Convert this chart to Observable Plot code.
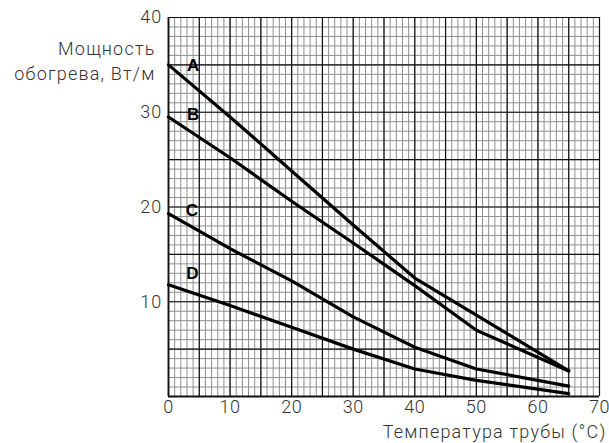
<!DOCTYPE html>
<html>
<head>
<meta charset="utf-8">
<script src="https://cdn.jsdelivr.net/npm/d3@7"></script>
<script src="https://cdn.jsdelivr.net/npm/@observablehq/plot@0.6"></script>
<style>
  html, body { margin: 0; padding: 0; background: #fff; }
  svg { display: block; }
  svg .thin text, svg text.thin, svg .thin tspan { letter-spacing: 1.2px; font-weight: 300; }
  svg .thinx text, svg text.thinx { letter-spacing: 0.5px; font-weight: 300; }
</style>
</head>
<body>
<div id="chart"></div>
<script>
const temps = [0, 10, 20, 30, 40, 50, 65];
const seriesA = [35, 29.5, 23.8, 18.1, 12.5, 8.6, 2.7];
const seriesB = [29.5, 25.2, 20.6, 16.2, 11.7, 7.0, 2.7];
const seriesC = [19.3, 15.6, 12.2, 8.4, 5.2, 2.9, 1.1];
const seriesD = [11.8, 9.6, 7.3, 5.0, 2.9, 1.7, 0.3];
const seriesNames = ["A", "B", "C", "D"];
const labelX = [4, 4, 3.8, 3.9];
const labelY = [34.9, 29.8, 19.6, 13.0];
const xTicks = [0, 10, 20, 30, 40, 50, 60, 70];
const yTicks = [10, 20, 30, 40];
const minorX = d3.range(0, 71, 1);
const minorY = d3.range(0, 41, 1);
const majorX = d3.range(0, 71, 5);
const majorY = d3.range(0, 41, 5);
const yTitle = "Мощность\nобогрева, Вт/м";
const xTitle = "Температура трубы (°C)";

const all = [seriesA, seriesB, seriesC, seriesD];
const rows = [];
all.forEach((s, i) => s.forEach((v, j) => rows.push({series: seriesNames[i], t: temps[j], p: v})));
const labels = seriesNames.map((n, i) => ({n, x: labelX[i], y: labelY[i]}));

const font = "Roboto, 'DejaVu Sans', sans-serif";

const plot = Plot.plot({
  width: 609,
  height: 443,
  marginLeft: 168,
  marginRight: 10,
  marginTop: 17,
  marginBottom: 47,
  style: {fontFamily: font, fontSize: "18px", color: "#333", background: "#fff"},
  x: {domain: [0, 70], label: null},
  y: {domain: [0, 40], label: null},
  marks: [
    Plot.ruleX(minorX, {stroke: "#8f8f8f", strokeWidth: 1}),
    Plot.ruleY(minorY, {stroke: "#8f8f8f", strokeWidth: 1}),
    Plot.ruleX(majorX, {stroke: "#111", strokeWidth: 1.2}),
    Plot.ruleY(majorY, {stroke: "#111", strokeWidth: 1.2}),
    Plot.ruleY([0], {stroke: "#111", strokeWidth: 1.8}),
    Plot.ruleX([0], {stroke: "#111", strokeWidth: 1.8}),
    Plot.line(rows, {x: "t", y: "p", z: "series", stroke: "#000", strokeWidth: 3.2, strokeLinejoin: "round"}),
    Plot.text(labels, {x: "x", y: "y", text: "n", fontWeight: "bold", fontSize: 17, fill: "#000",
      fontFamily: "'Liberation Sans', Arial, sans-serif"}),
    Plot.axisX({ticks: xTicks, tickSize: 0, tickPadding: 4, label: null, fontSize: 18, className: "thinx"}),
    Plot.axisY({ticks: yTicks, tickSize: 0, tickPadding: 6, label: null, fontSize: 18, className: "thin"}),
    Plot.text([yTitle], {frameAnchor: "top-left", dx: -13, dy: 42, textAnchor: "end", lineAnchor: "middle",
      lineHeight: 1.4, fontSize: 18, fill: "#333", className: "thin"}),
    Plot.text([xTitle], {frameAnchor: "bottom-right", dx: 7, dy: 36, textAnchor: "end", lineAnchor: "middle",
      fontSize: 18, fill: "#333", className: "thin"})
  ]
});
plot.querySelectorAll(".thin text").forEach(t => t.classList.add("thin"));
plot.querySelectorAll(".thinx text").forEach(t => t.classList.add("thinx"));
document.getElementById("chart").appendChild(plot);
</script>
</body>
</html>
